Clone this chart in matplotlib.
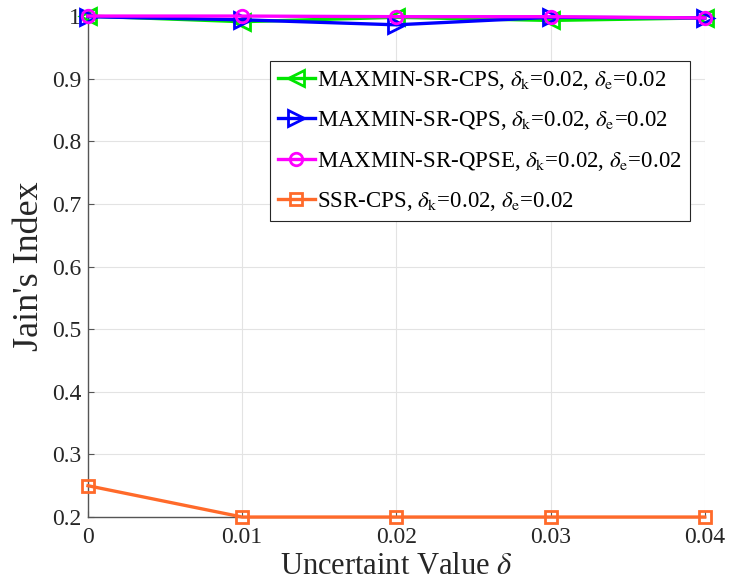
import numpy as np
import matplotlib
matplotlib.use('Agg')
import matplotlib.pyplot as plt

plt.rcParams['font.family'] = 'Liberation Serif'
plt.rcParams['mathtext.fontset'] = 'stix'

# uncertainty values on the x axis
delta = [0, 0.01, 0.02, 0.03, 0.04]

# Jain's fairness index for each scheme
jain_cps = [1.0, 0.991, 0.998, 0.993, 0.997]
jain_qps = [0.999, 0.994, 0.986, 0.998, 0.997]
jain_qpse = [1.0, 1.0, 0.999, 0.999, 0.997]
jain_ssr = [0.25, 0.2, 0.2, 0.2, 0.2]

labels = ['MAXMIN-SR-CPS, $\\delta_{\\rm k}$=0.02, $\\delta_{\\rm e}$=0.02',
          'MAXMIN-SR-QPS, $\\delta_{\\rm k}$=0.02, $\\delta_{\\rm e}$=0.02',
          'MAXMIN-SR-QPSE, $\\delta_{\\rm k}$=0.02, $\\delta_{\\rm e}$=0.02',
          'SSR-CPS, $\\delta_{\\rm k}$=0.02, $\\delta_{\\rm e}$=0.02']

xticks = [0, 0.01, 0.02, 0.03, 0.04]
xticklabels = ['0', '0.01', '0.02', '0.03', '0.04']
yticks = [0.2, 0.3, 0.4, 0.5, 0.6, 0.7, 0.8, 0.9, 1.0]
yticklabels = ['0.2', '0.3', '0.4', '0.5', '0.6', '0.7', '0.8', '0.9', '1']

fig = plt.figure(figsize=(7.29, 5.88), dpi=100)
ax = fig.add_axes([0.1207, 0.1207, 0.846, 0.852])

style = dict(mfc='none', mew=2, lw=2.4, clip_on=False, zorder=3)
ax.plot(delta, jain_cps, color='#00e600', marker='<', ms=11, label=labels[0], **style)
ax.plot(delta, jain_qps, color='#0000ff', marker='>', ms=11, label=labels[1], **style)
ax.plot(delta, jain_qpse, color='#ff00ff', marker='o', ms=9, label=labels[2], **style)
ax.plot(delta, jain_ssr, color='#ff6a2a', marker='s', ms=9, label=labels[3], **style)

ax.set_xlim(0, 0.04)
ax.set_ylim(0.2, 1.0)
ax.set_xticks(xticks)
ax.set_xticklabels(xticklabels)
ax.set_yticks(yticks)
ax.set_yticklabels(yticklabels)
ax.tick_params(labelsize=17, direction='in', length=4, width=0.8, color='#555555',
               labelcolor='#262626')
ax.tick_params(axis='x', pad=7)
ax.tick_params(axis='y', pad=5)
ax.grid(True, color='#e3e3e3', lw=0.8)
ax.set_axisbelow(True)
for s in ['top', 'right']:
    ax.spines[s].set_visible(False)
for s in ['left', 'bottom']:
    ax.spines[s].set_color('#555555')
    ax.spines[s].set_linewidth(1.0)

ax.set_xlabel('Uncertaint Value $\\delta$', fontsize=22, labelpad=3, color='#262626')
ax.set_ylabel("Jain's Index", fontsize=26, labelpad=4, color='#262626')

leg = ax.legend(loc='upper left', bbox_to_anchor=(0.295, 0.91), fontsize=16.5,
                handlelength=1.6, handletextpad=0.1, labelspacing=0.75,
                borderpad=0.35, borderaxespad=0, fancybox=False, framealpha=1)
leg.get_frame().set_edgecolor('#262626')
leg.get_frame().set_linewidth(0.8)

fig.savefig('out.png', dpi=100)
